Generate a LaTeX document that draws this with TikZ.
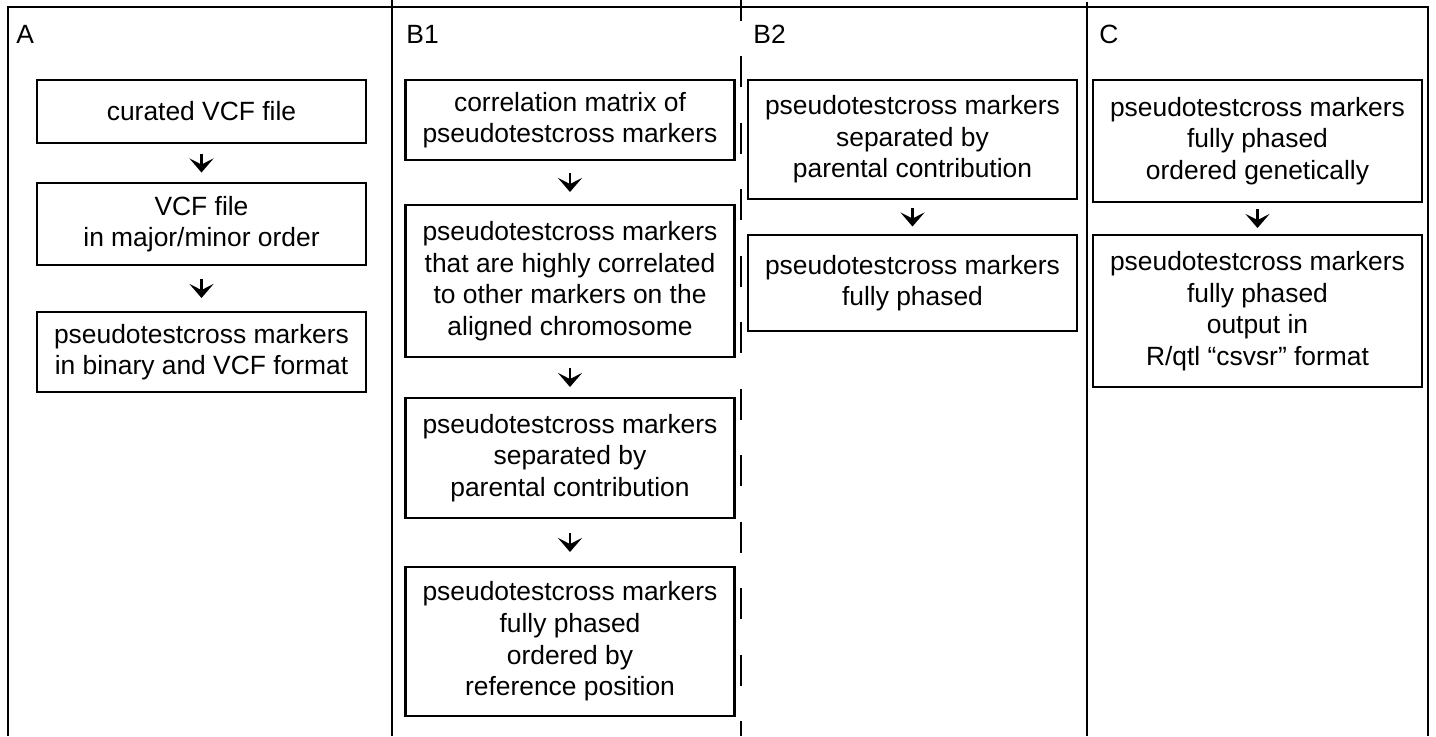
\documentclass[tikz,border=0pt]{standalone}
\usepackage{fontspec}
\setmainfont{Liberation Sans}
\usepackage{tikz}
\usetikzlibrary{positioning, arrows.meta}
\tikzset{
    stage/.style={rectangle, draw=black, line width=1.4pt, fill=white, align=center, minimum width=164.5pt, inner sep=2pt, outer sep=0pt, font=\fontsize{13.2pt}{15.8pt}\selectfont},
    panel/.style={anchor=base west, inner sep=0pt, font=\fontsize{13.2pt}{15.8pt}\selectfont},
    arrow/.style={-{Stealth[length=7pt, width=12pt, inset=3pt]}, line width=1.3pt, shorten <=#1, shorten >=#1},
    divider/.style={line width=1.2pt}
}

\begin{document}
\begin{tikzpicture}[x=0.5pt, y=-0.5pt]
    \useasboundingbox (0,0) rectangle (1436,736);

    % Frame and column rules
    \draw[divider] (8,736) -- (8,7) -- (1428,7) -- (1428,736);
    \draw[divider] (392,0) -- (392,736);
    \draw[divider] (1087,2) -- (1087,736);
    \draw[divider, dash pattern=on 15.5pt off 17.75pt, dash phase=5.25pt] (741,0) -- (741,736);

    % Column labels
    \node[panel] (labA) at (16,43) {A};
    \node[panel] (labBa) at (406,43) {B1};
    \node[panel] (labBb) at (753,43) {B2};
    \node[panel] (labC) at (1099,43) {C};

    % Column A
    \node[stage, minimum height=31.5pt, anchor=north] (a1) at (201.5,80) {curated VCF file};
    \node[stage, minimum height=41pt, below=20pt of a1] (a2) {VCF file\\in major/minor order};
    \node[stage, minimum height=40pt, below=23.5pt of a2] (a3) {pseudotestcross markers\\in binary and VCF format};

    % Column B1
    \node[stage, minimum height=40pt, anchor=north] (ba1) at (570,80) {correlation matrix of\\pseudotestcross markers};
    \node[stage, minimum height=76pt, below=22.5pt of ba1] (ba2) {pseudotestcross markers\\that are highly correlated\\to other markers on the\\aligned chromosome};
    \node[stage, minimum height=60pt, below=20.5pt of ba2] (ba3) {pseudotestcross markers\\separated by\\parental contribution};
    \node[stage, minimum height=74.5pt, below=24.5pt of ba3] (ba4) {pseudotestcross markers\\fully phased\\ordered by\\reference position};

    % Column B2
    \node[stage, minimum height=59.5pt, anchor=north] (bb1) at (912.5,80) {pseudotestcross markers\\separated by\\parental contribution};
    \node[stage, minimum height=48pt, below=18pt of bb1] (bb2) {pseudotestcross markers\\fully phased};

    % Column C
    \node[stage, minimum height=61pt, anchor=north] (c1) at (1257.5,80) {pseudotestcross markers\\fully phased\\ordered genetically};
    \node[stage, minimum height=76pt, below=16.5pt of c1] (c2) {pseudotestcross markers\\fully phased\\output in\\R/qtl “csvsr” format};

    % Arrows
    \draw[arrow=5.25pt] (a1) -- (a2);
    \draw[arrow=7pt] (a2) -- (a3);
    \draw[arrow=6.5pt] (ba1) -- (ba2);
    \draw[arrow=5.5pt] (ba2) -- (ba3);
    \draw[arrow=7.5pt] (ba3) -- (ba4);
    \draw[arrow=4.25pt] (bb1) -- (bb2);
    \draw[arrow=3.5pt] (c1) -- (c2);
\end{tikzpicture}
\end{document}
